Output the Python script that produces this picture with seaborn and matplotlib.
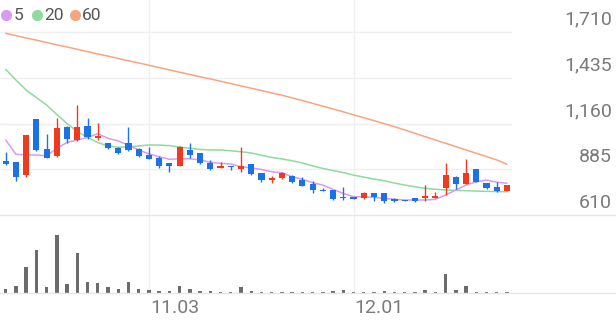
import numpy as np
import pandas as pd
import matplotlib
matplotlib.use("Agg")
import matplotlib.pyplot as plt
from matplotlib.lines import Line2D
import seaborn as sns

# ---------------- data ----------------
opens = [936, 927, 850, 1187, 1008, 965, 1141, 1061, 1147, 1075,
         1041, 1015, 1045, 1007, 971, 951, 921, 905, 1001, 981,
         924, 894, 906, 888, 917, 861, 820, 831, 846, 820,
         795, 760, 760, 714, 718, 710, 740, 740, 704, 700,
         710, 714, 714, 770, 840, 796, 885, 800, 780, 756]
highs = [990, 928, 1091, 1190, 1095, 1195, 1143, 1271, 1195, 1165,
         1045, 1018, 1137, 1010, 1017, 965, 922, 1022, 1041, 985,
         941, 929, 907, 1021, 918, 862, 844, 866, 848, 837,
         814, 774, 762, 780, 720, 746, 742, 742, 714, 702,
         712, 790, 750, 921, 842, 945, 886, 802, 810, 792]
lows = [912, 812, 840, 995, 950, 960, 1041, 1055, 1067, 1061,
        1005, 975, 996, 960, 945, 891, 870, 902, 951, 915,
        882, 892, 881, 870, 850, 810, 804, 828, 801, 783,
        744, 754, 702, 700, 706, 708, 694, 682, 690, 692,
        690, 694, 712, 730, 766, 794, 808, 768, 750, 752]
closes = [917, 837, 1091, 1001, 954, 1135, 1069, 1141, 1077, 1087,
          1011, 981, 1001, 965, 948, 905, 905, 1021, 971, 921,
          887, 906, 897, 906, 857, 820, 834, 864, 807, 786,
          760, 754, 706, 710, 708, 744, 716, 694, 692, 694,
          694, 724, 724, 850, 796, 864, 810, 770, 756, 790]
ma5 = [1061, 975, 971, 971, 965, 1011, 1046, 1061, 1076, 1099,
       1071, 1055, 1030, 1001, 977, 960, 945, 948, 948, 941,
       927, 921, 917, 900, 893, 884, 870, 864, 840, 825,
       804, 790, 764, 740, 720, 720, 716, 710, 704, 700,
       700, 700, 704, 730, 760, 790, 810, 820, 807, 801]
ma20 = [1486, 1421, 1361, 1316, 1271, 1214, 1160, 1111, 1077, 1045,
        1025, 1017, 1019, 1025, 1031, 1030, 1027, 1019, 1011, 1004,
        1001, 1001, 996, 990, 983, 969, 956, 947, 936, 923,
        905, 890, 877, 865, 850, 838, 826, 816, 802, 790,
        780, 770, 765, 760, 758, 756, 754, 752, 751, 750]
ma60 = [1702, 1688, 1674, 1661, 1647, 1633, 1620, 1606, 1592, 1578,
        1565, 1551, 1537, 1524, 1510, 1496, 1482, 1468, 1455, 1441,
        1428, 1414, 1400, 1386, 1372, 1358, 1344, 1330, 1314, 1298,
        1281, 1264, 1247, 1230, 1212, 1195, 1177, 1159, 1141, 1121,
        1101, 1081, 1061, 1041, 1021, 1001, 981, 961, 941, 915]
volume = [130, 210, 780, 1290, 180, 1730, 280, 1190, 330, 290,
          170, 110, 340, 120, 80, 70, 70, 200, 110, 70,
          70, 40, 40, 180, 60, 40, 30, 30, 30, 30,
          30, 40, 60, 80, 30, 40, 30, 70, 30, 30,
          30, 80, 30, 580, 100, 220, 40, 30, 30, 30]
date_ticks = {14: "11.03", 34: "12.01"}
y_ticks = [610, 885, 1160, 1435, 1710]
ma_labels = ["5", "20", "60"]

# ---------------- style ----------------
UP = "#ee3a1f"
DOWN = "#1b72e6"
C5 = "#d79bf2"
C20 = "#8fda9c"
C60 = "#f8a47f"
GRID = "#efefef"
TXT = "#7a7a7a"

sns.set_theme(style="white")
plt.rcParams["font.family"] = ["Roboto", "DejaVu Sans"]
plt.rcParams["patch.force_edgecolor"] = False

W, H = 616, 321
fig = plt.figure(figsize=(W / 100, H / 100), dpi=100)
fig.patch.set_facecolor("white")

idx = np.arange(len(closes))
df = pd.DataFrame({"i": idx, "open": opens, "high": highs, "low": lows,
                   "close": closes, "ma5": ma5, "ma20": ma20, "ma60": ma60,
                   "vol": volume})

px_per_unit = 183 / 1100.0
xlim = (-5.7 / 10.23, (512 - 5.7) / 10.23)
price_top = 610 + 215 / px_per_unit
VMAX = 2340

axp = fig.add_axes([0, (H - 215) / H, 512 / W, 215 / H])
axv = fig.add_axes([0, (H - 293) / H, 512 / W, 78 / H])


def clean(ax):
    for s in ax.spines.values():
        s.set_visible(False)
    ax.set_xticks([])
    ax.set_yticks([])
    ax.set_facecolor("none")
    ax.set_xlabel("")
    ax.set_ylabel("")


# volume (categorical positions 0..n-1)
sns.barplot(data=df, x="i", y="vol", ax=axv, color="#6b6b6b", width=0.33,
            saturation=1, order=list(idx), linewidth=0, edgecolor="none",
            zorder=2)

# grid lines
for v in y_ticks[1:]:
    axp.axhline(v, color=GRID, lw=1.0, zorder=0)
for k in date_ticks:
    axp.axvline(k, color=GRID, lw=1.0, zorder=0)
    axv.axvline(k, color=GRID, lw=1.0, zorder=0)

# moving averages
sns.lineplot(data=df, x="i", y="ma60", ax=axp, color=C60, lw=1.1, zorder=2)
sns.lineplot(data=df, x="i", y="ma20", ax=axp, color=C20, lw=1.1, zorder=2)
sns.lineplot(data=df, x="i", y="ma5", ax=axp, color=C5, lw=1.1, zorder=2)

# candles
o = np.array(opens, float)
c = np.array(closes, float)
colors = [UP if cc >= oo else DOWN for oo, cc in zip(o, c)]
axp.vlines(idx, lows, highs, colors=colors, lw=1.0, zorder=3)
body_h = np.maximum(np.abs(c - o), 6.0)
axp.bar(idx, body_h, bottom=np.minimum(o, c), width=0.6, color=colors,
        linewidth=0, edgecolor="none", zorder=4)

for ax in (axp, axv):
    ax.set_xlim(*xlim)
    clean(ax)
axp.set_ylim(610, price_top)
axv.set_ylim(0, VMAX)

# separator lines (full width)
for ypx in (215, 293):
    fig.add_artist(Line2D([0, 1], [(H - ypx) / H] * 2, transform=fig.transFigure,
                          color="#e6e6e6", lw=1.0))

# y labels (right side, above grid line)
for v in y_ticks:
    ypx = 215 - (v - 610) * px_per_unit - 12.5
    fig.text(612 / W, (H - ypx) / H, f"{v:,}", ha="right", va="center",
             fontsize=14, color=TXT)

# x labels
for k, lab in date_ticks.items():
    xpx = 5.7 + 10.23 * k + 1
    fig.text(xpx / W, (H - 308) / H, lab, ha="left", va="center",
             fontsize=14, color=TXT)

# legend
lx = [6, 37, 74.5]
tx = [13.5, 44.5, 82]
for x0, x1, col, lab in zip(lx, tx, [C5, C20, C60], ma_labels):
    fig.add_artist(Line2D([x0 / W], [(H - 15) / H], transform=fig.transFigure,
                          marker="o", markersize=7, color=col, lw=0))
    fig.text(x1 / W, (H - 15) / H, lab, ha="left", va="center",
             fontsize=12.5, color="#555555")

fig.savefig("out.png", dpi=100, facecolor="white")
